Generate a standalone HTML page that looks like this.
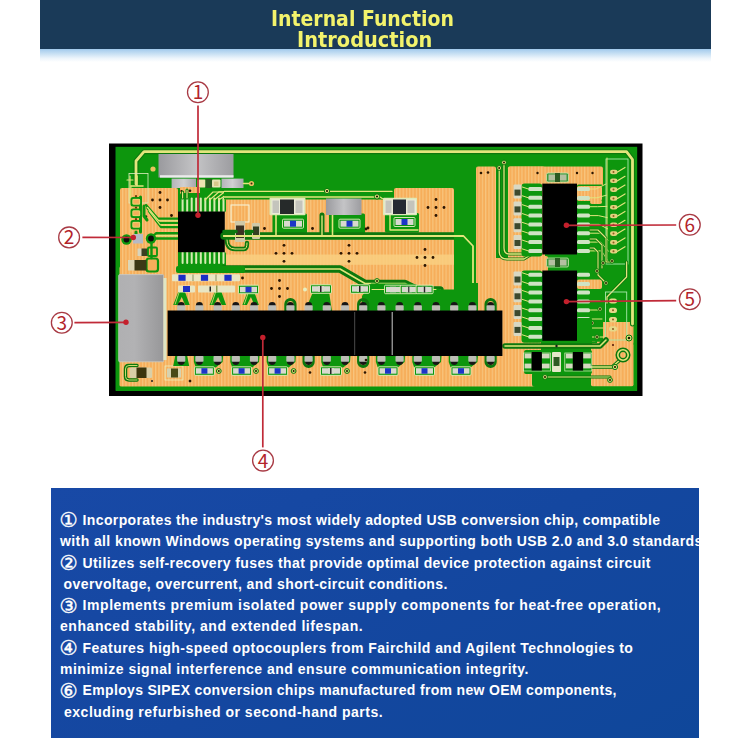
<!DOCTYPE html>
<html lang="en"><head><meta charset="utf-8"><title>Internal Function Introduction</title>
<style>
html,body{margin:0;padding:0;background:#fff}
body{width:750px;height:750px;position:relative;overflow:hidden;font-family:"Liberation Sans",sans-serif}
#hdr{position:absolute;left:40px;top:0;width:670.5px;height:48.5px;background:#1a3a58}
#hdr .h{position:absolute;white-space:pre;color:#f3f36c;transform-origin:0 0;font-family:"DejaVu Sans","Liberation Sans",sans-serif;font-weight:bold;font-size:20.4px;line-height:24px;height:24px}
#glow{position:absolute;left:40px;top:48.5px;width:670.5px;height:13px;background:linear-gradient(#a2caec,#c6dff3 35%,#ebf4fb 70%,#ffffff)}
#pcb{position:absolute;left:0;top:0}
#box{position:absolute;left:51px;top:487.5px;width:648px;height:250px;background:linear-gradient(150deg,#1849a6 0%,#1447a0 50%,#0f479a 100%);overflow:visible;color:#fff;font-weight:bold;font-size:14.0px}
#box .l{position:absolute;left:0;height:20px;line-height:20px;width:660px;white-space:pre}
#box .t{position:absolute;top:0}
#box .c{position:absolute;left:8.6px;top:0.6px;font-family:"DejaVu Sans",sans-serif;font-weight:normal;font-size:20.5px;line-height:20px;-webkit-text-stroke:0.35px #fff}
</style></head><body>
<div id="hdr">
<div class="h" style="left:230.8px;top:6.7px;transform:scaleX(0.9270)">Internal Function</div>
<div class="h" style="left:256.5px;top:27.5px;transform:scaleX(0.9502)">Introduction</div>
</div>
<div id="glow"></div>
<svg id="pcb" width="750" height="750" viewBox="0 0 750 750">
<defs>
<pattern id="cu" width="3.3" height="3.3" patternUnits="userSpaceOnUse"><rect width="3.3" height="3.3" fill="#f6ae5a"/><rect width="1.2" height="3.3" fill="#f8c47c"/></pattern>
<linearGradient id="gr1" x1="0" x2="1" y1="0" y2="0"><stop offset="0" stop-color="#9a9a9e"/><stop offset="0.5" stop-color="#c4c4c6"/><stop offset="1" stop-color="#9c9ca0"/></linearGradient>
<linearGradient id="gr2" x1="0" x2="1" y1="0" y2="0"><stop offset="0" stop-color="#b4b4b8"/><stop offset="0.5" stop-color="#d0d0d2"/><stop offset="1" stop-color="#a8a8ac"/></linearGradient>
<linearGradient id="gr3" x1="0" x2="1" y1="0" y2="0"><stop offset="0" stop-color="#b0b0b2"/><stop offset="0.35" stop-color="#b2b2b4"/><stop offset="1" stop-color="#979799"/></linearGradient>
<filter id="soft" x="-2%" y="-2%" width="104%" height="104%"><feGaussianBlur stdDeviation="0.6"/></filter>
</defs>
<g filter="url(#soft)">
<rect x="109.0" y="143.5" width="533.5" height="252.5" fill="#000" />
<rect x="115.5" y="146.8" width="521.7" height="244.0" fill="#0c960f" />
<rect x="120.0" y="188.0" width="58.0" height="87.0" fill="url(#cu)" rx="2"/>
<rect x="119.5" y="266.0" width="392.5" height="121.0" fill="url(#cu)" rx="2"/>
<rect x="224.0" y="197.0" width="230.0" height="88.0" fill="url(#cu)" rx="2"/>
<rect x="394.0" y="188.0" width="60.0" height="45.0" fill="url(#cu)" rx="2"/>
<rect x="476.0" y="166.5" width="20.0" height="145.5" fill="url(#cu)" rx="2"/>
<rect x="476.0" y="258.0" width="65.0" height="129.0" fill="url(#cu)" rx="2"/>
<rect x="508.0" y="166.5" width="95.0" height="35.5" fill="url(#cu)" rx="2"/>
<rect x="508.0" y="166.5" width="37.0" height="92.5" fill="url(#cu)" rx="2"/>
<rect x="597.0" y="322.0" width="36.5" height="24.0" fill="url(#cu)" rx="4"/>
<rect x="591.0" y="343.0" width="42.5" height="43.5" fill="url(#cu)" rx="2"/>
<rect x="577.0" y="283.0" width="25.0" height="14.0" fill="url(#cu)" rx="2"/>
<rect x="512.0" y="256.0" width="36.0" height="16.0" fill="url(#cu)" rx="2"/>
<rect x="577.0" y="330.0" width="19.0" height="12.0" fill="url(#cu)" rx="2"/>
<rect x="226.0" y="254.5" width="228.0" height="10.3" fill="#f9cf80" opacity="0.85"/>
<path d="M136,184 V161 L144,151.7 H626.5 L632.5,159.5 V324" stroke="#08780e" stroke-width="5" fill="none" stroke-linejoin="round" stroke-linecap="round" />
<path d="M136,184 V161 L144,151.7 H626.5 L632.5,159.5 V324" stroke="#e3e57c" stroke-width="2.8" fill="none" stroke-linejoin="round" stroke-linecap="round" />
<path d="M224,191.5 H392" stroke="#08780e" stroke-width="3" fill="none" stroke-linejoin="round" stroke-linecap="round" />
<path d="M224,191.5 H392" stroke="#e3e57c" stroke-width="1.2" fill="none" stroke-linejoin="round" stroke-linecap="round" />
<path d="M224,196.5 H380 L386,200" stroke="#08780e" stroke-width="3" fill="none" stroke-linejoin="round" stroke-linecap="round" />
<path d="M224,196.5 H380 L386,200" stroke="#e3e57c" stroke-width="1.2" fill="none" stroke-linejoin="round" stroke-linecap="round" />
<rect x="158.5" y="154.0" width="75.0" height="23.5" fill="url(#gr1)" />
<rect x="160.0" y="175.2" width="73.5" height="2.4" fill="#ececec" />
<rect x="171.6" y="178.6" width="24.4" height="9.4" fill="url(#gr2)" />
<rect x="221.5" y="178.6" width="22.0" height="9.4" fill="url(#gr2)" />
<rect x="197.0" y="179.5" width="8.5" height="8.0" fill="#ece4b0" rx="1"/>
<rect x="205.5" y="179.0" width="6.5" height="9.0" fill="#2c5a22" />
<rect x="212.0" y="179.5" width="8.5" height="8.0" fill="#e9e2b4" rx="1"/>
<rect x="214.0" y="181.5" width="4.5" height="4.5" fill="#d8c88a" />
<path d="M243.5,183.5 H249" stroke="#e3e57c" stroke-width="1.6" fill="none" stroke-linejoin="round" stroke-linecap="round" />
<circle cx="153.0" cy="169.0" r="2.6" fill="#e9c35f" />
<circle cx="251.5" cy="183.5" r="2.6" fill="#e8c060" />
<circle cx="251.5" cy="183.5" r="1" fill="#3a2a10" />
<rect x="180.0" y="187.0" width="20.0" height="9.0" fill="url(#cu)" rx="1"/>
<circle cx="190.0" cy="190.8" r="1.3" fill="#2a1200" />
<circle cx="181.5" cy="191.0" r="1.1" fill="#2a1200" />
<rect x="129.0" y="173.5" width="19.0" height="29.5" fill="none" stroke="#dfeec0" stroke-width="0.8"/>
<path d="M127,180 H133 M130,176 V200" stroke="#e3e57c" stroke-width="1.2" fill="none" stroke-linejoin="round" stroke-linecap="round" />
<path d="M131,186 V232" stroke="#e3e57c" stroke-width="0.9" fill="none" stroke-linejoin="round" stroke-linecap="round" />
<path d="M140.5,197 V232" stroke="#0c960f" stroke-width="3" fill="none" stroke-linejoin="round" stroke-linecap="round" />
<rect x="131.5" y="198.0" width="9.5" height="7.5" fill="#f6ae5a" stroke="#0c960f" stroke-width="2" rx="1.5"/>
<rect x="132.8" y="199.3" width="6.9" height="4.9" fill="none" stroke="#e3e57c" stroke-width="0.7" rx="1"/>
<circle cx="136.0" cy="196.2" r="1.1" fill="#6a3a08" />
<rect x="131.5" y="209.5" width="9.5" height="7.5" fill="#f6ae5a" stroke="#0c960f" stroke-width="2" rx="1.5"/>
<rect x="132.8" y="210.8" width="6.9" height="4.9" fill="none" stroke="#e3e57c" stroke-width="0.7" rx="1"/>
<circle cx="136.0" cy="207.7" r="1.1" fill="#6a3a08" />
<rect x="131.5" y="221.0" width="9.5" height="7.5" fill="#f6ae5a" stroke="#0c960f" stroke-width="2" rx="1.5"/>
<rect x="132.8" y="222.3" width="6.9" height="4.9" fill="none" stroke="#e3e57c" stroke-width="0.7" rx="1"/>
<circle cx="136.0" cy="219.2" r="1.1" fill="#6a3a08" />
<path d="M137,186 V176 M131,186 H143" stroke="#e3e57c" stroke-width="1.6" fill="none" stroke-linejoin="round" stroke-linecap="round" />
<path d="M136,232 V236" stroke="#0c960f" stroke-width="3" fill="none" stroke-linejoin="round" stroke-linecap="round" />
<circle cx="160.0" cy="200.0" r="1.4" fill="#2a1200" />
<circle cx="167.5" cy="200.0" r="1.4" fill="#2a1200" />
<circle cx="152.5" cy="200.0" r="1.4" fill="#2a1200" />
<circle cx="160.0" cy="207.5" r="1.4" fill="#2a1200" />
<circle cx="160.0" cy="192.5" r="1.4" fill="#2a1200" />
<circle cx="171.5" cy="215.5" r="1.4" fill="#2a1200" />
<circle cx="146.0" cy="216.5" r="1.2" fill="#10300c" />
<path d="M146.0,205.0 L158.0,218.7 H178" stroke="#0c960f" stroke-width="2.3" fill="none" stroke-linejoin="round" stroke-linecap="round" />
<path d="M147.5,208.2 L159.5,222.9 H178" stroke="#0c960f" stroke-width="2.3" fill="none" stroke-linejoin="round" stroke-linecap="round" />
<path d="M149.0,211.4 L161.0,227.1 H178" stroke="#0c960f" stroke-width="2.3" fill="none" stroke-linejoin="round" stroke-linecap="round" />
<path d="M147.5,207.5 L158.8,220.8 H178" stroke="#e3e57c" stroke-width="1.2" fill="none" stroke-linejoin="round" stroke-linecap="round" />
<path d="M149.0,210.7 L160.3,225.0 H178" stroke="#e3e57c" stroke-width="1.2" fill="none" stroke-linejoin="round" stroke-linecap="round" />
<path d="M144,206 V216 L147,220" stroke="#0c960f" stroke-width="3" fill="none" stroke-linejoin="round" stroke-linecap="round" />
<path d="M151,238.5 L156,233.3 H178" stroke="#0c960f" stroke-width="2.4" fill="none" stroke-linejoin="round" stroke-linecap="round" />
<path d="M151,238.5 H178" stroke="#0c960f" stroke-width="2.6" fill="none" stroke-linejoin="round" stroke-linecap="round" />
<path d="M156,235.6 H178" stroke="#e3e57c" stroke-width="1.3" fill="none" stroke-linejoin="round" stroke-linecap="round" />
<circle cx="126.5" cy="239.5" r="5.2" fill="#0c960f" />
<circle cx="126.5" cy="239.5" r="2.9" fill="#0a0a0a" />
<circle cx="151.0" cy="238.5" r="5.2" fill="#0c960f" />
<circle cx="151.0" cy="238.5" r="2.9" fill="#0a0a0a" />
<rect x="133.0" y="234.0" width="10.0" height="9.5" fill="#b6bac4" />
<rect x="137.5" y="248.5" width="4.5" height="7.5" fill="#d8d4bc" />
<rect x="141.5" y="248.5" width="6.5" height="7.5" fill="#3a3f22" />
<rect x="148.0" y="247.5" width="9.0" height="8.5" fill="#f6ae5a" stroke="#0c960f" stroke-width="1.8" rx="1"/>
<rect x="146.5" y="258.5" width="11.5" height="13.0" fill="#f6ae5a" stroke="#0c960f" stroke-width="2.2" rx="2.5"/>
<path d="M151.5,243 V258" stroke="#0c960f" stroke-width="2.4" fill="none" stroke-linejoin="round" stroke-linecap="round" />
<rect x="128.0" y="260.0" width="7.0" height="10.5" fill="#ddd6b6" />
<rect x="134.5" y="260.0" width="12.0" height="10.5" fill="#3a3712" />
<rect x="180.0" y="193.0" width="46.0" height="19.0" fill="#0c960f" rx="1.5"/>
<rect x="180.0" y="252.0" width="46.0" height="16.0" fill="#0c960f" rx="1.5"/>
<path d="M182.6,198.5 V212" stroke="#d6ebb0" stroke-width="2" fill="none" stroke-linejoin="round" stroke-linecap="round" />
<path d="M182.6,252 V263" stroke="#d6ebb0" stroke-width="2" fill="none" stroke-linejoin="round" stroke-linecap="round" />
<path d="M187.2,198.5 V212" stroke="#d6ebb0" stroke-width="2" fill="none" stroke-linejoin="round" stroke-linecap="round" />
<path d="M187.2,252 V263" stroke="#d6ebb0" stroke-width="2" fill="none" stroke-linejoin="round" stroke-linecap="round" />
<path d="M191.7,198.5 V212" stroke="#d6ebb0" stroke-width="2" fill="none" stroke-linejoin="round" stroke-linecap="round" />
<path d="M191.7,252 V263" stroke="#d6ebb0" stroke-width="2" fill="none" stroke-linejoin="round" stroke-linecap="round" />
<path d="M196.2,198.5 V212" stroke="#d6ebb0" stroke-width="2" fill="none" stroke-linejoin="round" stroke-linecap="round" />
<path d="M196.2,252 V263" stroke="#d6ebb0" stroke-width="2" fill="none" stroke-linejoin="round" stroke-linecap="round" />
<path d="M200.8,198.5 V212" stroke="#d6ebb0" stroke-width="2" fill="none" stroke-linejoin="round" stroke-linecap="round" />
<path d="M200.8,252 V263" stroke="#d6ebb0" stroke-width="2" fill="none" stroke-linejoin="round" stroke-linecap="round" />
<path d="M205.3,198.5 V212" stroke="#d6ebb0" stroke-width="2" fill="none" stroke-linejoin="round" stroke-linecap="round" />
<path d="M205.3,252 V263" stroke="#d6ebb0" stroke-width="2" fill="none" stroke-linejoin="round" stroke-linecap="round" />
<path d="M209.9,198.5 V212" stroke="#d6ebb0" stroke-width="2" fill="none" stroke-linejoin="round" stroke-linecap="round" />
<path d="M209.9,252 V263" stroke="#d6ebb0" stroke-width="2" fill="none" stroke-linejoin="round" stroke-linecap="round" />
<path d="M214.4,198.5 V212" stroke="#d6ebb0" stroke-width="2" fill="none" stroke-linejoin="round" stroke-linecap="round" />
<path d="M214.4,252 V263" stroke="#d6ebb0" stroke-width="2" fill="none" stroke-linejoin="round" stroke-linecap="round" />
<path d="M219.0,198.5 V212" stroke="#d6ebb0" stroke-width="2" fill="none" stroke-linejoin="round" stroke-linecap="round" />
<path d="M219.0,252 V263" stroke="#d6ebb0" stroke-width="2" fill="none" stroke-linejoin="round" stroke-linecap="round" />
<path d="M223.5,198.5 V212" stroke="#d6ebb0" stroke-width="2" fill="none" stroke-linejoin="round" stroke-linecap="round" />
<path d="M223.5,252 V263" stroke="#d6ebb0" stroke-width="2" fill="none" stroke-linejoin="round" stroke-linecap="round" />
<path d="M182.6,198 V192 M187,198 V190" stroke="#08780e" stroke-width="3" fill="none" stroke-linejoin="round" stroke-linecap="round" />
<path d="M182.6,198 V192 M187,198 V190" stroke="#e3e57c" stroke-width="1.2" fill="none" stroke-linejoin="round" stroke-linecap="round" />
<path d="M205.0,200 L213.0,192.0 H250" stroke="#e3e57c" stroke-width="1.2" fill="none" stroke-linejoin="round" stroke-linecap="round" />
<path d="M209.6,200 L219.1,191.8 H252" stroke="#e3e57c" stroke-width="1.2" fill="none" stroke-linejoin="round" stroke-linecap="round" />
<path d="M214.1,200 L225.1,191.6 H254" stroke="#e3e57c" stroke-width="1.2" fill="none" stroke-linejoin="round" stroke-linecap="round" />
<path d="M218.7,200 L231.2,191.4 H256" stroke="#e3e57c" stroke-width="1.2" fill="none" stroke-linejoin="round" stroke-linecap="round" />
<path d="M223.2,200 L237.2,191.2 H258" stroke="#e3e57c" stroke-width="1.2" fill="none" stroke-linejoin="round" stroke-linecap="round" />
<rect x="178.0" y="211.5" width="46.8" height="40.7" fill="#050505" />
<rect x="224.0" y="189.0" width="170.0" height="10.5" fill="#0c960f" rx="0"/>
<path d="M224,191.4 H392" stroke="#e3e57c" stroke-width="1.3" fill="none" stroke-linejoin="round" stroke-linecap="round" />
<path d="M224,197 H380 L386,201" stroke="#e3e57c" stroke-width="1.3" fill="none" stroke-linejoin="round" stroke-linecap="round" />
<rect x="272.5" y="213.5" width="34.5" height="20.5" fill="#0c960f" rx="1.5"/>
<rect x="329.0" y="213.5" width="36.0" height="20.5" fill="#0c960f" rx="1.5"/>
<rect x="385.0" y="213.0" width="34.0" height="19.5" fill="#0c960f" rx="1.5"/>
<path d="M224,236 H454" stroke="#08780e" stroke-width="7.4" fill="none" stroke-linejoin="round" stroke-linecap="round" />
<path d="M224,236 H454" stroke="#e3e57c" stroke-width="2" fill="none" stroke-linejoin="round" stroke-linecap="round" />
<path d="M276,215 V236" stroke="#e3e57c" stroke-width="1.6" fill="none" stroke-linejoin="round" stroke-linecap="round" />
<path d="M332.5,215 V236" stroke="#e3e57c" stroke-width="1.6" fill="none" stroke-linejoin="round" stroke-linecap="round" />
<path d="M390,214 V230 H418" stroke="#e3e57c" stroke-width="1.4" fill="none" stroke-linejoin="round" stroke-linecap="round" />
<path d="M322,236 V215" stroke="#08780e" stroke-width="5" fill="none" stroke-linejoin="round" stroke-linecap="round" />
<path d="M322,236 V216" stroke="#e3e57c" stroke-width="1.4" fill="none" stroke-linejoin="round" stroke-linecap="round" />
<rect x="231.0" y="205.0" width="18.0" height="17.0" fill="none" stroke="#f6f2d6" stroke-width="1.1"/>
<rect x="235.0" y="221.0" width="10.0" height="21.0" fill="#cfc9a8" rx="1"/>
<rect x="236.0" y="225.5" width="8.0" height="12.5" fill="#3a3322" />
<rect x="252.0" y="223.0" width="8.0" height="16.0" fill="#cfc9a8" rx="1"/>
<rect x="253.0" y="226.5" width="6.0" height="9.5" fill="#344020" />
<path d="M227,240 Q227,249 235,249 H244 Q247,249 247,243" stroke="#08780e" stroke-width="4.4" fill="none" stroke-linejoin="round" stroke-linecap="round" />
<path d="M227,240 Q227,249 235,249 H244 Q247,249 247,243" stroke="#e3e57c" stroke-width="1" fill="none" stroke-linejoin="round" stroke-linecap="round" />
<path d="M224,231.5 H236 M246,231.5 H252" stroke="#08780e" stroke-width="3.6" fill="none" stroke-linejoin="round" stroke-linecap="round" />
<rect x="269.5" y="197.8" width="36.0" height="17.5" fill="#dfe9b8" rx="1"/>
<rect x="271.5" y="199.5" width="32.5" height="14.5" fill="#ecebd8" />
<rect x="280.0" y="199.5" width="14.0" height="14.5" fill="#262a2c" />
<rect x="272.5" y="200.5" width="6.5" height="12.5" fill="#c4c4bc" />
<rect x="295.5" y="200.5" width="7.0" height="12.5" fill="#c4c4bc" />
<rect x="282.5" y="219.2" width="21.0" height="9.0" fill="#0c960f" stroke="#e9efc0" stroke-width="0.9" rx="1"/>
<rect x="284.0" y="220.7" width="18.0" height="6.0" fill="#d9d9cf" />
<rect x="290.0" y="220.7" width="6.0" height="6.0" fill="#1c36c8" />
<rect x="326.0" y="198.5" width="35.5" height="16.5" fill="url(#gr1)" />
<rect x="339.0" y="219.2" width="21.0" height="9.0" fill="#0c960f" stroke="#e9efc0" stroke-width="0.9" rx="1"/>
<rect x="340.5" y="220.7" width="18.0" height="6.0" fill="#d9d9cf" />
<rect x="346.5" y="220.7" width="6.0" height="6.0" fill="#1c36c8" />
<rect x="383.0" y="197.8" width="34.0" height="17.5" fill="#dfe9b8" rx="1"/>
<rect x="384.5" y="199.5" width="31.5" height="14.5" fill="#ecebd8" />
<rect x="393.0" y="199.5" width="13.0" height="14.5" fill="#262b30" />
<rect x="385.5" y="200.5" width="6.0" height="12.5" fill="#c4c4bc" />
<rect x="407.5" y="200.5" width="7.0" height="12.5" fill="#c4c4bc" />
<rect x="394.0" y="217.5" width="21.0" height="9.0" fill="#0c960f" stroke="#e9efc0" stroke-width="0.9" rx="1"/>
<rect x="395.5" y="219.0" width="18.0" height="6.0" fill="#d9d9cf" />
<rect x="401.5" y="219.0" width="6.0" height="6.0" fill="#1c36c8" />
<circle cx="377.0" cy="196.5" r="2.6" fill="#e3e57c" stroke="#08780e" stroke-width="1"/>
<circle cx="377.0" cy="196.5" r="1.1" fill="#1a1a00" />
<circle cx="327.0" cy="191.0" r="2.6" fill="#e3e57c" stroke="#08780e" stroke-width="1"/>
<circle cx="327.0" cy="191.0" r="1.1" fill="#1a1a00" />
<circle cx="284.0" cy="253.3" r="1.4" fill="#2a1200" />
<circle cx="292.0" cy="253.3" r="1.4" fill="#2a1200" />
<circle cx="276.0" cy="253.3" r="1.4" fill="#2a1200" />
<circle cx="284.0" cy="261.3" r="1.4" fill="#2a1200" />
<circle cx="284.0" cy="245.3" r="1.4" fill="#2a1200" />
<circle cx="349.0" cy="253.3" r="1.4" fill="#2a1200" />
<circle cx="357.0" cy="253.3" r="1.4" fill="#2a1200" />
<circle cx="341.0" cy="253.3" r="1.4" fill="#2a1200" />
<circle cx="349.0" cy="261.3" r="1.4" fill="#2a1200" />
<circle cx="349.0" cy="245.3" r="1.4" fill="#2a1200" />
<circle cx="436.0" cy="207.5" r="1.4" fill="#2a1200" />
<circle cx="444.0" cy="207.5" r="1.4" fill="#2a1200" />
<circle cx="428.0" cy="207.5" r="1.4" fill="#2a1200" />
<circle cx="436.0" cy="215.5" r="1.4" fill="#2a1200" />
<circle cx="436.0" cy="199.5" r="1.4" fill="#2a1200" />
<circle cx="425.0" cy="257.5" r="1.4" fill="#2a1200" />
<circle cx="433.0" cy="257.5" r="1.4" fill="#2a1200" />
<circle cx="417.0" cy="257.5" r="1.4" fill="#2a1200" />
<circle cx="425.0" cy="265.5" r="1.4" fill="#2a1200" />
<circle cx="425.0" cy="249.5" r="1.4" fill="#2a1200" />
<circle cx="264.5" cy="228.5" r="1.4" fill="#2a1200" />
<circle cx="312.5" cy="228.5" r="1.4" fill="#2a1200" />
<circle cx="368.0" cy="228.0" r="1.4" fill="#2a1200" />
<circle cx="366.0" cy="229.0" r="1.4" fill="#2a1200" />
<path d="M224,269 H340 L365,283.5 H405 L418,290 H440" stroke="#08780e" stroke-width="7.5" fill="none" stroke-linejoin="round" stroke-linecap="round" />
<path d="M224,269 H340 L365,283.5 H405 L418,290 H440" stroke="#e3e57c" stroke-width="1.6" fill="none" stroke-linejoin="round" stroke-linecap="round" />
<rect x="455.0" y="240.0" width="20.0" height="72.0" fill="#0c960f" rx="0"/>
<rect x="454.0" y="166.0" width="22.0" height="134.0" fill="#0c960f" />
<circle cx="481.0" cy="173.0" r="1.3" fill="#2a1200" />
<circle cx="488.0" cy="172.5" r="1.3" fill="#2a1200" />
<path d="M224,236 H463.5 L473,246 V300" stroke="#e3e57c" stroke-width="1.8" fill="none" stroke-linejoin="round" stroke-linecap="round" />
<path d="M499.2,168 V251 Q499.2,259 507,259 H524 L532,254" stroke="#08780e" stroke-width="3.2" fill="none" stroke-linejoin="round" stroke-linecap="round" />
<path d="M499.2,168 V251 Q499.2,259 507,259 H524 L532,254" stroke="#e3e57c" stroke-width="1.3" fill="none" stroke-linejoin="round" stroke-linecap="round" />
<path d="M504,163 V248 Q504,254 509,254 H522" stroke="#08780e" stroke-width="3.2" fill="none" stroke-linejoin="round" stroke-linecap="round" />
<path d="M504,163 V248 Q504,254 509,254 H522" stroke="#e3e57c" stroke-width="1.3" fill="none" stroke-linejoin="round" stroke-linecap="round" />
<circle cx="499.2" cy="168.0" r="2.4" fill="#e3e57c" stroke="#08780e" stroke-width="1"/>
<circle cx="499.2" cy="168.0" r="1" fill="#1a1a00" />
<circle cx="504.0" cy="162.5" r="2.4" fill="#e3e57c" stroke="#08780e" stroke-width="1"/>
<circle cx="504.0" cy="162.5" r="1" fill="#1a1a00" />
<rect x="521.5" y="183.6" width="20.8" height="72.9" fill="#0c960f" rx="3"/>
<rect x="577.0" y="184.6" width="26.0" height="70.9" fill="#0c960f" rx="1.5"/>
<rect x="528.3" y="187.0" width="14.0" height="4.0" fill="#cfe3c4" rx="1.5"/>
<rect x="577.0" y="187.0" width="13.0" height="4.0" fill="#cfe3c4" rx="1.5"/>
<path d="M528.3,189.0 L522.3,187.0" stroke="#e3e57c" stroke-width="1" fill="none" stroke-linejoin="round" stroke-linecap="round" />
<rect x="528.3" y="195.8" width="14.0" height="4.0" fill="#cfe3c4" rx="1.5"/>
<rect x="577.0" y="195.8" width="13.0" height="4.0" fill="#cfe3c4" rx="1.5"/>
<path d="M528.3,197.8 L522.3,195.8" stroke="#e3e57c" stroke-width="1" fill="none" stroke-linejoin="round" stroke-linecap="round" />
<rect x="528.3" y="204.7" width="14.0" height="4.0" fill="#cfe3c4" rx="1.5"/>
<rect x="577.0" y="204.7" width="13.0" height="4.0" fill="#cfe3c4" rx="1.5"/>
<path d="M528.3,206.7 L522.3,204.7" stroke="#e3e57c" stroke-width="1" fill="none" stroke-linejoin="round" stroke-linecap="round" />
<rect x="528.3" y="213.6" width="14.0" height="4.0" fill="#cfe3c4" rx="1.5"/>
<rect x="577.0" y="213.6" width="13.0" height="4.0" fill="#cfe3c4" rx="1.5"/>
<path d="M528.3,215.6 L522.3,213.6" stroke="#e3e57c" stroke-width="1" fill="none" stroke-linejoin="round" stroke-linecap="round" />
<rect x="528.3" y="222.4" width="14.0" height="4.0" fill="#cfe3c4" rx="1.5"/>
<rect x="577.0" y="222.4" width="13.0" height="4.0" fill="#cfe3c4" rx="1.5"/>
<path d="M528.3,224.4 L522.3,222.4" stroke="#e3e57c" stroke-width="1" fill="none" stroke-linejoin="round" stroke-linecap="round" />
<rect x="528.3" y="231.2" width="14.0" height="4.0" fill="#cfe3c4" rx="1.5"/>
<rect x="577.0" y="231.2" width="13.0" height="4.0" fill="#cfe3c4" rx="1.5"/>
<path d="M528.3,233.2 L522.3,231.2" stroke="#e3e57c" stroke-width="1" fill="none" stroke-linejoin="round" stroke-linecap="round" />
<rect x="528.3" y="240.1" width="14.0" height="4.0" fill="#cfe3c4" rx="1.5"/>
<rect x="577.0" y="240.1" width="13.0" height="4.0" fill="#cfe3c4" rx="1.5"/>
<path d="M528.3,242.1 L522.3,240.1" stroke="#e3e57c" stroke-width="1" fill="none" stroke-linejoin="round" stroke-linecap="round" />
<rect x="528.3" y="248.9" width="14.0" height="4.0" fill="#cfe3c4" rx="1.5"/>
<rect x="577.0" y="248.9" width="13.0" height="4.0" fill="#cfe3c4" rx="1.5"/>
<path d="M528.3,250.9 L522.3,248.9" stroke="#e3e57c" stroke-width="1" fill="none" stroke-linejoin="round" stroke-linecap="round" />
<rect x="513.5" y="184.6" width="8.0" height="14.0" fill="#d9d8c4" rx="1"/>
<rect x="514.5" y="189.6" width="6.0" height="6.0" fill="#3d4a2e" />
<rect x="513.5" y="201.4" width="8.0" height="14.0" fill="#d9d8c4" rx="1"/>
<rect x="514.5" y="206.4" width="6.0" height="6.0" fill="#3d4a2e" />
<rect x="513.5" y="218.2" width="8.0" height="14.0" fill="#d9d8c4" rx="1"/>
<rect x="514.5" y="223.2" width="6.0" height="6.0" fill="#3d4a2e" />
<rect x="513.5" y="235.0" width="8.0" height="14.0" fill="#d9d8c4" rx="1"/>
<rect x="514.5" y="240.0" width="6.0" height="6.0" fill="#3d4a2e" />
<rect x="542.3" y="183.6" width="34.7" height="70.9" fill="#050505" />
<rect x="521.5" y="270.5" width="20.8" height="72.3" fill="#0c960f" rx="3"/>
<rect x="577.0" y="271.5" width="26.0" height="70.3" fill="#0c960f" rx="1.5"/>
<rect x="528.3" y="272.8" width="14.0" height="4.0" fill="#cfe3c4" rx="1.5"/>
<rect x="577.0" y="272.8" width="13.0" height="4.0" fill="#cfe3c4" rx="1.5"/>
<path d="M528.3,274.8 L522.3,272.8" stroke="#e3e57c" stroke-width="1" fill="none" stroke-linejoin="round" stroke-linecap="round" />
<rect x="528.3" y="281.7" width="14.0" height="4.0" fill="#cfe3c4" rx="1.5"/>
<rect x="577.0" y="281.7" width="13.0" height="4.0" fill="#cfe3c4" rx="1.5"/>
<path d="M528.3,283.7 L522.3,281.7" stroke="#e3e57c" stroke-width="1" fill="none" stroke-linejoin="round" stroke-linecap="round" />
<rect x="528.3" y="290.5" width="14.0" height="4.0" fill="#cfe3c4" rx="1.5"/>
<rect x="577.0" y="290.5" width="13.0" height="4.0" fill="#cfe3c4" rx="1.5"/>
<path d="M528.3,292.5 L522.3,290.5" stroke="#e3e57c" stroke-width="1" fill="none" stroke-linejoin="round" stroke-linecap="round" />
<rect x="528.3" y="299.4" width="14.0" height="4.0" fill="#cfe3c4" rx="1.5"/>
<rect x="577.0" y="299.4" width="13.0" height="4.0" fill="#cfe3c4" rx="1.5"/>
<path d="M528.3,301.4 L522.3,299.4" stroke="#e3e57c" stroke-width="1" fill="none" stroke-linejoin="round" stroke-linecap="round" />
<rect x="528.3" y="308.2" width="14.0" height="4.0" fill="#cfe3c4" rx="1.5"/>
<rect x="577.0" y="308.2" width="13.0" height="4.0" fill="#cfe3c4" rx="1.5"/>
<path d="M528.3,310.2 L522.3,308.2" stroke="#e3e57c" stroke-width="1" fill="none" stroke-linejoin="round" stroke-linecap="round" />
<rect x="528.3" y="317.1" width="14.0" height="4.0" fill="#cfe3c4" rx="1.5"/>
<rect x="577.0" y="317.1" width="13.0" height="4.0" fill="#cfe3c4" rx="1.5"/>
<path d="M528.3,319.1 L522.3,317.1" stroke="#e3e57c" stroke-width="1" fill="none" stroke-linejoin="round" stroke-linecap="round" />
<rect x="528.3" y="325.9" width="14.0" height="4.0" fill="#cfe3c4" rx="1.5"/>
<rect x="577.0" y="325.9" width="13.0" height="4.0" fill="#cfe3c4" rx="1.5"/>
<path d="M528.3,327.9 L522.3,325.9" stroke="#e3e57c" stroke-width="1" fill="none" stroke-linejoin="round" stroke-linecap="round" />
<rect x="528.3" y="334.8" width="14.0" height="4.0" fill="#cfe3c4" rx="1.5"/>
<rect x="577.0" y="334.8" width="13.0" height="4.0" fill="#cfe3c4" rx="1.5"/>
<path d="M528.3,336.8 L522.3,334.8" stroke="#e3e57c" stroke-width="1" fill="none" stroke-linejoin="round" stroke-linecap="round" />
<rect x="513.5" y="271.5" width="8.0" height="14.0" fill="#d9d8c4" rx="1"/>
<rect x="514.5" y="276.5" width="6.0" height="6.0" fill="#3d4a2e" />
<rect x="513.5" y="288.3" width="8.0" height="14.0" fill="#d9d8c4" rx="1"/>
<rect x="514.5" y="293.3" width="6.0" height="6.0" fill="#3d4a2e" />
<rect x="513.5" y="305.1" width="8.0" height="14.0" fill="#d9d8c4" rx="1"/>
<rect x="514.5" y="310.1" width="6.0" height="6.0" fill="#3d4a2e" />
<rect x="513.5" y="321.9" width="8.0" height="14.0" fill="#d9d8c4" rx="1"/>
<rect x="514.5" y="326.9" width="6.0" height="6.0" fill="#3d4a2e" />
<rect x="542.3" y="270.5" width="34.7" height="70.3" fill="#050505" />
<rect x="577.0" y="186.0" width="25.0" height="15.0" fill="url(#cu)" rx="2"/>
<rect x="590.0" y="200.0" width="12.0" height="4.0" fill="url(#cu)" rx="2"/>
<rect x="577.0" y="279.5" width="25.0" height="9.5" fill="url(#cu)" rx="2"/>
<rect x="577.0" y="282.0" width="13.0" height="4.0" fill="#cfe3c4" rx="1.5"/>
<rect x="577.0" y="187.0" width="13.0" height="4.0" fill="#cfe3c4" rx="1.5"/>
<rect x="577.0" y="195.9" width="13.0" height="4.0" fill="#cfe3c4" rx="1.5"/>
<circle cx="537.5" cy="173.0" r="1.2" fill="#2a1200" />
<circle cx="577.0" cy="173.0" r="1.2" fill="#2a1200" />
<circle cx="592.5" cy="173.0" r="1.2" fill="#2a1200" />
<rect x="546.5" y="173.0" width="22.0" height="9.0" fill="#3d9a3a" rx="1.5" stroke="#cfe3b0" stroke-width="0.8"/>
<rect x="548.5" y="174.5" width="6.5" height="6.0" fill="#b4c0a0" />
<rect x="560.0" y="174.5" width="6.5" height="6.0" fill="#b4c0a0" />
<rect x="555.0" y="173.0" width="5.0" height="9.0" fill="#2a5a20" />
<rect x="546.5" y="258.0" width="22.0" height="9.0" fill="#3d9a3a" rx="1.5" stroke="#cfe3b0" stroke-width="0.8"/>
<rect x="548.5" y="259.5" width="6.5" height="6.0" fill="#b4c0a0" />
<rect x="560.0" y="259.5" width="6.5" height="6.0" fill="#b4c0a0" />
<rect x="555.0" y="258.0" width="5.0" height="9.0" fill="#2a5a20" />
<path d="M590,189.0 H596.0 L606.0,184.0" stroke="#e3e57c" stroke-width="1" fill="none" stroke-linejoin="round" stroke-linecap="round" />
<path d="M590,197.8 H596.8 L606.4,195.2" stroke="#e3e57c" stroke-width="1" fill="none" stroke-linejoin="round" stroke-linecap="round" />
<path d="M590,206.7 H597.6 L606.8,206.4" stroke="#e3e57c" stroke-width="1" fill="none" stroke-linejoin="round" stroke-linecap="round" />
<path d="M590,215.6 H598.4 L607.2,217.6" stroke="#e3e57c" stroke-width="1" fill="none" stroke-linejoin="round" stroke-linecap="round" />
<path d="M590,224.4 H599.2 L607.6,228.8" stroke="#e3e57c" stroke-width="1" fill="none" stroke-linejoin="round" stroke-linecap="round" />
<path d="M590,233.2 H600.0 L608.0,240.0" stroke="#e3e57c" stroke-width="1" fill="none" stroke-linejoin="round" stroke-linecap="round" />
<path d="M590,242.1 H600.8 L608.4,251.2" stroke="#e3e57c" stroke-width="1" fill="none" stroke-linejoin="round" stroke-linecap="round" />
<path d="M590,250.9 H601.6 L608.8,262.4" stroke="#e3e57c" stroke-width="1" fill="none" stroke-linejoin="round" stroke-linecap="round" />
<rect x="606.0" y="159.0" width="22.0" height="105.0" fill="none" stroke="#a8e8a8" stroke-width="0.9"/>
<rect x="610.0" y="169.7" width="7.5" height="4.6" fill="#e2d27e" rx="2.3"/>
<circle cx="613.5" cy="172.0" r="1" fill="#8a5a20" />
<path d="M617.5,172.0 L625,167.5" stroke="#e3e57c" stroke-width="1.2" fill="none" stroke-linejoin="round" stroke-linecap="round" />
<rect x="610.0" y="178.5" width="7.5" height="4.6" fill="#e2d27e" rx="2.3"/>
<circle cx="613.5" cy="180.8" r="1" fill="#8a5a20" />
<path d="M617.5,180.8 L625,176.3" stroke="#e3e57c" stroke-width="1.2" fill="none" stroke-linejoin="round" stroke-linecap="round" />
<rect x="610.0" y="187.3" width="7.5" height="4.6" fill="#e2d27e" rx="2.3"/>
<circle cx="613.5" cy="189.6" r="1" fill="#8a5a20" />
<path d="M617.5,189.6 L625,185.1" stroke="#e3e57c" stroke-width="1.2" fill="none" stroke-linejoin="round" stroke-linecap="round" />
<rect x="610.0" y="196.1" width="7.5" height="4.6" fill="#e2d27e" rx="2.3"/>
<circle cx="613.5" cy="198.4" r="1" fill="#8a5a20" />
<path d="M617.5,198.4 L625,193.9" stroke="#e3e57c" stroke-width="1.2" fill="none" stroke-linejoin="round" stroke-linecap="round" />
<rect x="610.0" y="204.9" width="7.5" height="4.6" fill="#e2d27e" rx="2.3"/>
<circle cx="613.5" cy="207.2" r="1" fill="#8a5a20" />
<path d="M617.5,207.2 L625,202.7" stroke="#e3e57c" stroke-width="1.2" fill="none" stroke-linejoin="round" stroke-linecap="round" />
<rect x="610.0" y="213.7" width="7.5" height="4.6" fill="#e2d27e" rx="2.3"/>
<circle cx="613.5" cy="216.0" r="1" fill="#8a5a20" />
<path d="M617.5,216.0 L625,211.5" stroke="#e3e57c" stroke-width="1.2" fill="none" stroke-linejoin="round" stroke-linecap="round" />
<rect x="610.0" y="222.5" width="7.5" height="4.6" fill="#e2d27e" rx="2.3"/>
<circle cx="613.5" cy="224.8" r="1" fill="#8a5a20" />
<path d="M617.5,224.8 L625,220.3" stroke="#e3e57c" stroke-width="1.2" fill="none" stroke-linejoin="round" stroke-linecap="round" />
<rect x="610.0" y="231.3" width="7.5" height="4.6" fill="#e2d27e" rx="2.3"/>
<circle cx="613.5" cy="233.6" r="1" fill="#8a5a20" />
<path d="M617.5,233.6 L625,229.1" stroke="#e3e57c" stroke-width="1.2" fill="none" stroke-linejoin="round" stroke-linecap="round" />
<rect x="610.0" y="240.1" width="7.5" height="4.6" fill="#e2d27e" rx="2.3"/>
<circle cx="613.5" cy="242.4" r="1" fill="#8a5a20" />
<path d="M617.5,242.4 L625,237.9" stroke="#e3e57c" stroke-width="1.2" fill="none" stroke-linejoin="round" stroke-linecap="round" />
<rect x="610.0" y="248.9" width="7.5" height="4.6" fill="#e2d27e" rx="2.3"/>
<circle cx="613.5" cy="251.2" r="1" fill="#8a5a20" />
<path d="M617.5,251.2 L625,246.7" stroke="#e3e57c" stroke-width="1.2" fill="none" stroke-linejoin="round" stroke-linecap="round" />
<path d="M607,158 V262" stroke="#e3e57c" stroke-width="1" fill="none" stroke-linejoin="round" stroke-linecap="round" />
<path d="M590,230 H598 L606,238 V262 L612,262" stroke="#08780e" stroke-width="2.6" fill="none" stroke-linejoin="round" stroke-linecap="round" />
<path d="M590,230 H598 L606,238 V262 L612,262" stroke="#e3e57c" stroke-width="1.1" fill="none" stroke-linejoin="round" stroke-linecap="round" />
<path d="M590,239 H596 L602,245 V268" stroke="#08780e" stroke-width="2.6" fill="none" stroke-linejoin="round" stroke-linecap="round" />
<path d="M590,239 H596 L602,245 V268" stroke="#e3e57c" stroke-width="1.1" fill="none" stroke-linejoin="round" stroke-linecap="round" />
<path d="M590,248 H594 L598,252 V275 L606,283" stroke="#08780e" stroke-width="2.6" fill="none" stroke-linejoin="round" stroke-linecap="round" />
<path d="M590,248 H594 L598,252 V275 L606,283" stroke="#e3e57c" stroke-width="1.1" fill="none" stroke-linejoin="round" stroke-linecap="round" />
<circle cx="603.0" cy="263.0" r="2.2" fill="#e3e57c" stroke="#08780e" stroke-width="1"/>
<circle cx="603.0" cy="263.0" r="1" fill="#1a1a00" />
<circle cx="612.0" cy="261.0" r="2.2" fill="#e3e57c" stroke="#08780e" stroke-width="1"/>
<circle cx="612.0" cy="261.0" r="1" fill="#1a1a00" />
<circle cx="597.0" cy="271.0" r="2.2" fill="#e3e57c" stroke="#08780e" stroke-width="1"/>
<circle cx="597.0" cy="271.0" r="1" fill="#1a1a00" />
<circle cx="606.0" cy="283.0" r="2.2" fill="#e3e57c" stroke="#08780e" stroke-width="1"/>
<circle cx="606.0" cy="283.0" r="1" fill="#1a1a00" />
<path d="M626.6,262 V277 L607,297 V303" stroke="#08780e" stroke-width="3.2" fill="none" stroke-linejoin="round" stroke-linecap="round" />
<path d="M626.6,262 V277 L607,297 V303" stroke="#e3e57c" stroke-width="1.3" fill="none" stroke-linejoin="round" stroke-linecap="round" />
<rect x="605.5" y="292.0" width="21.2" height="48.0" fill="none" stroke="#a8e8a8" stroke-width="0.9"/>
<rect x="609.0" y="298.4" width="8.0" height="5.2" fill="#e6d98a" rx="2.5"/>
<circle cx="613.0" cy="301.0" r="1" fill="#8a5a20" />
<rect x="609.0" y="307.7" width="8.0" height="5.2" fill="#e6d98a" rx="2.5"/>
<circle cx="613.0" cy="310.3" r="1" fill="#8a5a20" />
<rect x="609.0" y="317.0" width="8.0" height="5.2" fill="#e6d98a" rx="2.5"/>
<circle cx="613.0" cy="319.6" r="1" fill="#8a5a20" />
<rect x="609.0" y="326.3" width="8.0" height="5.2" fill="#e6d98a" rx="2.5"/>
<circle cx="613.0" cy="328.9" r="1" fill="#8a5a20" />
<path d="M590,301 H600" stroke="#e3e57c" stroke-width="1" fill="none" stroke-linejoin="round" stroke-linecap="round" />
<path d="M590,310 H601" stroke="#e3e57c" stroke-width="1" fill="none" stroke-linejoin="round" stroke-linecap="round" />
<path d="M590,319 H602" stroke="#e3e57c" stroke-width="1" fill="none" stroke-linejoin="round" stroke-linecap="round" />
<path d="M590,328 H603" stroke="#e3e57c" stroke-width="1" fill="none" stroke-linejoin="round" stroke-linecap="round" />
<path d="M590,337 H604" stroke="#e3e57c" stroke-width="1" fill="none" stroke-linejoin="round" stroke-linecap="round" />
<circle cx="600.0" cy="309.0" r="2.2" fill="#e3e57c" stroke="#08780e" stroke-width="1"/>
<circle cx="600.0" cy="309.0" r="1" fill="#1a1a00" />
<circle cx="592.0" cy="323.0" r="2.2" fill="#e3e57c" stroke="#08780e" stroke-width="1"/>
<circle cx="592.0" cy="323.0" r="1" fill="#1a1a00" />
<circle cx="597.0" cy="337.0" r="2.2" fill="#e3e57c" stroke="#08780e" stroke-width="1"/>
<circle cx="597.0" cy="337.0" r="1" fill="#1a1a00" />
<circle cx="629.0" cy="338.0" r="3" fill="#e3e57c" stroke="#08780e" stroke-width="1"/>
<circle cx="629.0" cy="338.0" r="1.3" fill="#1a1a00" />
<rect x="577.0" y="318.0" width="15.0" height="27.0" fill="#0c960f" rx="1"/>
<path d="M505,346 H600 L606,340" stroke="#08780e" stroke-width="5.5" fill="none" stroke-linejoin="round" stroke-linecap="round" />
<path d="M505,346 H600 L606,340" stroke="#e3e57c" stroke-width="1.6" fill="none" stroke-linejoin="round" stroke-linecap="round" />
<rect x="532.0" y="372.0" width="58.0" height="15.0" fill="#0c960f" rx="3"/>
<rect x="524.0" y="350.0" width="68.0" height="24.0" fill="#0c960f" rx="2"/>
<path d="M545,377 H610" stroke="#08780e" stroke-width="3" fill="none" stroke-linejoin="round" stroke-linecap="round" />
<path d="M545,377 H610" stroke="#e3e57c" stroke-width="1.2" fill="none" stroke-linejoin="round" stroke-linecap="round" />
<circle cx="545.0" cy="377.0" r="2.4" fill="#e3e57c" stroke="#08780e" stroke-width="1"/>
<circle cx="545.0" cy="377.0" r="1" fill="#1a1a00" />
<circle cx="610.0" cy="380.0" r="2.4" fill="#e3e57c" stroke="#08780e" stroke-width="1"/>
<circle cx="610.0" cy="380.0" r="1" fill="#1a1a00" />
<path d="M590,367 H612 L620,360" stroke="#08780e" stroke-width="3.4" fill="none" stroke-linejoin="round" stroke-linecap="round" />
<path d="M590,367 H612 L620,360" stroke="#e3e57c" stroke-width="1.4" fill="none" stroke-linejoin="round" stroke-linecap="round" />
<circle cx="615.0" cy="367.0" r="2.6" fill="#e3e57c" stroke="#08780e" stroke-width="1"/>
<circle cx="615.0" cy="367.0" r="1.1" fill="#1a1a00" />
<circle cx="623.0" cy="355.0" r="5.2" fill="none" stroke="#08780e" stroke-width="4.6"/>
<circle cx="623.0" cy="355.0" r="5.2" fill="none" stroke="#e3e57c" stroke-width="1.6"/>
<rect x="523.6" y="353.0" width="27.0" height="18.0" fill="none" stroke="#dfeec0" stroke-width="0.7"/>
<rect x="524.6" y="353.6" width="7.0" height="4.8" fill="#d5d8c0" />
<rect x="541.9" y="353.6" width="7.7" height="4.8" fill="#d5d8c0" />
<rect x="524.6" y="363.6" width="7.0" height="4.8" fill="#d5d8c0" />
<rect x="541.9" y="363.6" width="7.7" height="4.8" fill="#d5d8c0" />
<rect x="531.6" y="352.0" width="10.3" height="18.6" fill="#050505" />
<rect x="564.8" y="353.0" width="27.0" height="18.0" fill="none" stroke="#dfeec0" stroke-width="0.7"/>
<rect x="565.8" y="353.6" width="7.0" height="4.8" fill="#d5d8c0" />
<rect x="583.1" y="353.6" width="7.7" height="4.8" fill="#d5d8c0" />
<rect x="565.8" y="363.6" width="7.0" height="4.8" fill="#d5d8c0" />
<rect x="583.1" y="363.6" width="7.7" height="4.8" fill="#d5d8c0" />
<rect x="572.8" y="352.0" width="10.3" height="18.6" fill="#050505" />
<rect x="552.0" y="352.0" width="9.0" height="20.0" fill="#e4e6c8" rx="1"/>
<rect x="553.5" y="357.0" width="6.0" height="9.0" fill="#2d5a24" />
<circle cx="556.5" cy="346.0" r="1.2" fill="#1a1a1a" />
<circle cx="613.0" cy="345.0" r="1.1" fill="#5a1a10" />
<rect x="118.7" y="274.6" width="45.0" height="87.2" fill="url(#gr3)" rx="1" stroke="#c9c9c4" stroke-width="0.8"/>
<rect x="163.5" y="278.0" width="3.0" height="82.0" fill="#dfe6c4" />
<path d="M137,365.5 H129 Q125.5,365.5 125.5,369 V376.5 Q125.5,380 129,380 H137" stroke="#08780e" stroke-width="3.4" fill="none" stroke-linejoin="round" stroke-linecap="round" />
<path d="M137,365.5 H129 Q125.5,365.5 125.5,369 V376.5 Q125.5,380 129,380 H137" stroke="#e3e57c" stroke-width="0.9" fill="none" stroke-linejoin="round" stroke-linecap="round" />
<rect x="130.0" y="367.5" width="22.0" height="10.5" fill="#d9cfa8" rx="1"/>
<rect x="136.5" y="367.5" width="10.0" height="10.5" fill="#3a3410" />
<rect x="165.0" y="366.0" width="18.0" height="14.0" fill="none" stroke="#e9efc0" stroke-width="0.8"/>
<rect x="167.0" y="368.5" width="14.0" height="9.0" fill="#d6d2b0" />
<rect x="171.0" y="368.5" width="7.0" height="9.0" fill="#4a4a16" />
<circle cx="152.0" cy="381.0" r="1" fill="#222" />
<circle cx="190.0" cy="381.0" r="1.2" fill="#222" />
<rect x="116.0" y="386.5" width="521.0" height="4.5" fill="#0c960f" rx="0"/>
<polygon points="362.0,311.0 362.0,296.0 371.0,283.5 410.0,283.5 442.0,289.5 456.0,289.5 456.0,283.0 478.0,283.0 478.0,311.0" fill="#0c960f"/>
<rect x="455.0" y="283.0" width="21.0" height="28.0" fill="#0c960f" rx="0"/>
<path d="M372,289.5 H436" stroke="#e3e57c" stroke-width="1" fill="none" stroke-linejoin="round" stroke-linecap="round" />
<polygon points="178.7,291.0 184.7,291.0 189.7,305.0 185.2,305.0 181.7,297.0 177.7,305.0 173.2,305.0" fill="#0c960f"/>
<path d="M179.2,292 L175.2,304" stroke="#e3e57c" stroke-width="0.8" fill="none" stroke-linejoin="round" stroke-linecap="round" />
<polygon points="215.1,291.0 221.1,291.0 226.1,305.0 221.6,305.0 218.1,297.0 214.1,305.0 209.6,305.0" fill="#0c960f"/>
<path d="M215.6,292 L211.6,304" stroke="#e3e57c" stroke-width="0.8" fill="none" stroke-linejoin="round" stroke-linecap="round" />
<polygon points="247.9,291.0 253.9,291.0 258.9,305.0 254.4,305.0 250.9,297.0 246.9,305.0 242.4,305.0" fill="#0c960f"/>
<path d="M248.4,292 L244.4,304" stroke="#e3e57c" stroke-width="0.8" fill="none" stroke-linejoin="round" stroke-linecap="round" />
<polygon points="313.0,292.0 329.0,292.0 332.0,311.0 305.0,311.0" fill="#0c960f"/>
<path d="M285.8,311 V304 A4.6,4.6 0 0 1 295.0,304 V311" stroke="#08780e" stroke-width="3" fill="none" stroke-linejoin="round" stroke-linecap="round" />
<path d="M486.0,311 V304 A4.6,4.6 0 0 1 495.2,304 V311" stroke="#08780e" stroke-width="3" fill="none" stroke-linejoin="round" stroke-linecap="round" />
<path d="M358.6,311 V304 A4.6,4.6 0 0 1 367.8,304 V311" stroke="#08780e" stroke-width="3" fill="none" stroke-linejoin="round" stroke-linecap="round" />
<polygon points="193.9,356.0 223.1,356.0 222.6,362.0 215.8,367.5 195.8,367.5 193.9,362.0" fill="#0c960f"/>
<polygon points="230.3,356.0 259.5,356.0 259.0,362.0 252.2,367.5 232.2,367.5 230.3,362.0" fill="#0c960f"/>
<polygon points="266.7,356.0 295.9,356.0 295.4,362.0 288.6,367.5 268.6,367.5 266.7,362.0" fill="#0c960f"/>
<polygon points="321.3,356.0 350.5,356.0 350.0,362.0 343.2,367.5 323.2,367.5 321.3,362.0" fill="#0c960f"/>
<polygon points="375.9,356.0 405.1,356.0 404.6,362.0 397.8,367.5 377.8,367.5 375.9,362.0" fill="#0c960f"/>
<polygon points="412.3,356.0 441.5,356.0 441.0,362.0 434.2,367.5 414.2,367.5 412.3,362.0" fill="#0c960f"/>
<polygon points="448.7,356.0 477.9,356.0 477.4,362.0 470.6,367.5 450.6,367.5 448.7,362.0" fill="#0c960f"/>
<path d="M304.0,356 V362 A4.6,4.6 0 0 0 313.2,362 V356" stroke="#08780e" stroke-width="3" fill="none" stroke-linejoin="round" stroke-linecap="round" />
<path d="M486.0,356 V362 A4.6,4.6 0 0 0 495.2,362 V356" stroke="#08780e" stroke-width="3" fill="none" stroke-linejoin="round" stroke-linecap="round" />
<path d="M358.6,356 V362 A4.6,4.6 0 0 0 367.8,362 V356" stroke="#08780e" stroke-width="3" fill="none" stroke-linejoin="round" stroke-linecap="round" />
<polygon points="175.2,356.0 187.2,356.0 189.2,366.0 173.2,366.0" fill="#0c960f"/>
<ellipse cx="181.2" cy="305.4" rx="3.5" ry="3.4" fill="#161614"/>
<rect x="177.1" y="305.2" width="8.2" height="5.8" fill="#bdbdb6" rx="0.8"/>
<ellipse cx="181.2" cy="361.6" rx="3.5" ry="3.4" fill="#161614"/>
<rect x="177.1" y="356.0" width="8.2" height="5.8" fill="#bdbdb6" rx="0.8"/>
<ellipse cx="199.4" cy="305.4" rx="3.5" ry="3.4" fill="#161614"/>
<rect x="195.3" y="305.2" width="8.2" height="5.8" fill="#bdbdb6" rx="0.8"/>
<ellipse cx="199.4" cy="361.6" rx="3.5" ry="3.4" fill="#161614"/>
<rect x="195.3" y="356.0" width="8.2" height="5.8" fill="#bdbdb6" rx="0.8"/>
<ellipse cx="217.6" cy="305.4" rx="3.5" ry="3.4" fill="#161614"/>
<rect x="213.5" y="305.2" width="8.2" height="5.8" fill="#bdbdb6" rx="0.8"/>
<ellipse cx="217.6" cy="361.6" rx="3.5" ry="3.4" fill="#161614"/>
<rect x="213.5" y="356.0" width="8.2" height="5.8" fill="#bdbdb6" rx="0.8"/>
<ellipse cx="235.8" cy="305.4" rx="3.5" ry="3.4" fill="#161614"/>
<rect x="231.7" y="305.2" width="8.2" height="5.8" fill="#bdbdb6" rx="0.8"/>
<ellipse cx="235.8" cy="361.6" rx="3.5" ry="3.4" fill="#161614"/>
<rect x="231.7" y="356.0" width="8.2" height="5.8" fill="#bdbdb6" rx="0.8"/>
<ellipse cx="254.0" cy="305.4" rx="3.5" ry="3.4" fill="#161614"/>
<rect x="249.9" y="305.2" width="8.2" height="5.8" fill="#bdbdb6" rx="0.8"/>
<ellipse cx="254.0" cy="361.6" rx="3.5" ry="3.4" fill="#161614"/>
<rect x="249.9" y="356.0" width="8.2" height="5.8" fill="#bdbdb6" rx="0.8"/>
<ellipse cx="272.2" cy="305.4" rx="3.5" ry="3.4" fill="#161614"/>
<rect x="268.1" y="305.2" width="8.2" height="5.8" fill="#bdbdb6" rx="0.8"/>
<ellipse cx="272.2" cy="361.6" rx="3.5" ry="3.4" fill="#161614"/>
<rect x="268.1" y="356.0" width="8.2" height="5.8" fill="#bdbdb6" rx="0.8"/>
<ellipse cx="290.4" cy="305.4" rx="3.5" ry="3.4" fill="#161614"/>
<rect x="286.3" y="305.2" width="8.2" height="5.8" fill="#bdbdb6" rx="0.8"/>
<ellipse cx="290.4" cy="361.6" rx="3.5" ry="3.4" fill="#161614"/>
<rect x="286.3" y="356.0" width="8.2" height="5.8" fill="#bdbdb6" rx="0.8"/>
<ellipse cx="308.6" cy="305.4" rx="3.5" ry="3.4" fill="#161614"/>
<rect x="304.5" y="305.2" width="8.2" height="5.8" fill="#bdbdb6" rx="0.8"/>
<ellipse cx="308.6" cy="361.6" rx="3.5" ry="3.4" fill="#161614"/>
<rect x="304.5" y="356.0" width="8.2" height="5.8" fill="#bdbdb6" rx="0.8"/>
<ellipse cx="326.8" cy="305.4" rx="3.5" ry="3.4" fill="#161614"/>
<rect x="322.7" y="305.2" width="8.2" height="5.8" fill="#bdbdb6" rx="0.8"/>
<ellipse cx="326.8" cy="361.6" rx="3.5" ry="3.4" fill="#161614"/>
<rect x="322.7" y="356.0" width="8.2" height="5.8" fill="#bdbdb6" rx="0.8"/>
<ellipse cx="345.0" cy="305.4" rx="3.5" ry="3.4" fill="#161614"/>
<rect x="340.9" y="305.2" width="8.2" height="5.8" fill="#bdbdb6" rx="0.8"/>
<ellipse cx="345.0" cy="361.6" rx="3.5" ry="3.4" fill="#161614"/>
<rect x="340.9" y="356.0" width="8.2" height="5.8" fill="#bdbdb6" rx="0.8"/>
<ellipse cx="363.2" cy="305.4" rx="3.5" ry="3.4" fill="#161614"/>
<rect x="359.1" y="305.2" width="8.2" height="5.8" fill="#bdbdb6" rx="0.8"/>
<ellipse cx="363.2" cy="361.6" rx="3.5" ry="3.4" fill="#161614"/>
<rect x="359.1" y="356.0" width="8.2" height="5.8" fill="#bdbdb6" rx="0.8"/>
<ellipse cx="381.4" cy="305.4" rx="3.5" ry="3.4" fill="#161614"/>
<rect x="377.3" y="305.2" width="8.2" height="5.8" fill="#bdbdb6" rx="0.8"/>
<ellipse cx="381.4" cy="361.6" rx="3.5" ry="3.4" fill="#161614"/>
<rect x="377.3" y="356.0" width="8.2" height="5.8" fill="#bdbdb6" rx="0.8"/>
<ellipse cx="399.6" cy="305.4" rx="3.5" ry="3.4" fill="#161614"/>
<rect x="395.5" y="305.2" width="8.2" height="5.8" fill="#bdbdb6" rx="0.8"/>
<ellipse cx="399.6" cy="361.6" rx="3.5" ry="3.4" fill="#161614"/>
<rect x="395.5" y="356.0" width="8.2" height="5.8" fill="#bdbdb6" rx="0.8"/>
<ellipse cx="417.8" cy="305.4" rx="3.5" ry="3.4" fill="#161614"/>
<rect x="413.7" y="305.2" width="8.2" height="5.8" fill="#bdbdb6" rx="0.8"/>
<ellipse cx="417.8" cy="361.6" rx="3.5" ry="3.4" fill="#161614"/>
<rect x="413.7" y="356.0" width="8.2" height="5.8" fill="#bdbdb6" rx="0.8"/>
<ellipse cx="436.0" cy="305.4" rx="3.5" ry="3.4" fill="#161614"/>
<rect x="431.9" y="305.2" width="8.2" height="5.8" fill="#bdbdb6" rx="0.8"/>
<ellipse cx="436.0" cy="361.6" rx="3.5" ry="3.4" fill="#161614"/>
<rect x="431.9" y="356.0" width="8.2" height="5.8" fill="#bdbdb6" rx="0.8"/>
<ellipse cx="454.2" cy="305.4" rx="3.5" ry="3.4" fill="#161614"/>
<rect x="450.1" y="305.2" width="8.2" height="5.8" fill="#bdbdb6" rx="0.8"/>
<ellipse cx="454.2" cy="361.6" rx="3.5" ry="3.4" fill="#161614"/>
<rect x="450.1" y="356.0" width="8.2" height="5.8" fill="#bdbdb6" rx="0.8"/>
<ellipse cx="472.4" cy="305.4" rx="3.5" ry="3.4" fill="#161614"/>
<rect x="468.3" y="305.2" width="8.2" height="5.8" fill="#bdbdb6" rx="0.8"/>
<ellipse cx="472.4" cy="361.6" rx="3.5" ry="3.4" fill="#161614"/>
<rect x="468.3" y="356.0" width="8.2" height="5.8" fill="#bdbdb6" rx="0.8"/>
<ellipse cx="490.6" cy="305.4" rx="3.5" ry="3.4" fill="#161614"/>
<rect x="486.5" y="305.2" width="8.2" height="5.8" fill="#bdbdb6" rx="0.8"/>
<ellipse cx="490.6" cy="361.6" rx="3.5" ry="3.4" fill="#161614"/>
<rect x="486.5" y="356.0" width="8.2" height="5.8" fill="#bdbdb6" rx="0.8"/>
<rect x="167.6" y="310.5" width="334.8" height="45.5" fill="#050505" />
<rect x="354.3" y="312.0" width="0.8" height="43.0" fill="#555" />
<rect x="391.7" y="312.0" width="1.0" height="43.0" fill="#c8c8c8" />
<rect x="176.0" y="266.0" width="69.0" height="7.0" fill="#0c960f" rx="2"/>
<rect x="172.0" y="274.3" width="68.0" height="7.0" fill="#e9e6c4" rx="1"/>
<rect x="178.4" y="274.8" width="7.2" height="6.0" fill="#1a2ec4" />
<rect x="200.9" y="274.8" width="7.2" height="6.0" fill="#1a2ec4" />
<rect x="224.4" y="274.8" width="7.2" height="6.0" fill="#1a2ec4" />
<rect x="192.4" y="274.5" width="1.2" height="6.5" fill="#9aa070" />
<rect x="215.4" y="274.5" width="1.2" height="6.5" fill="#9aa070" />
<rect x="178.0" y="285.5" width="17.0" height="7.0" fill="#e9e6c4" rx="1"/>
<rect x="183.0" y="286.0" width="7.0" height="6.0" fill="#1a2ec4" />
<rect x="198.0" y="285.5" width="37.0" height="7.0" fill="#e9e6c4" rx="1"/>
<rect x="209.5" y="286.5" width="1.5" height="5.0" fill="#222" />
<rect x="216.0" y="285.5" width="1.5" height="7.0" fill="#8a9a50" />
<rect x="238.5" y="285.2" width="20.0" height="8.5" fill="#0c960f" stroke="#e9efc0" stroke-width="0.9" rx="1"/>
<rect x="240.0" y="286.8" width="17.0" height="5.5" fill="#d9d9cf" />
<rect x="245.5" y="286.8" width="6.0" height="5.5" fill="#1c36c8" />
<rect x="310.5" y="284.8" width="21.0" height="8.5" fill="#0c960f" stroke="#e9efc0" stroke-width="0.9" rx="1"/>
<rect x="312.0" y="286.2" width="18.0" height="5.5" fill="#d9d9cf" />
<rect x="318.0" y="286.2" width="6.0" height="5.5" fill="#d9d9cf" />
<rect x="320.0" y="286.0" width="1.5" height="6.0" fill="#222" />
<rect x="350.5" y="284.8" width="19.0" height="8.5" fill="#0c960f" stroke="#e9efc0" stroke-width="0.9" rx="1"/>
<rect x="352.0" y="286.2" width="16.0" height="5.5" fill="#d9d9cf" />
<rect x="357.0" y="286.2" width="6.0" height="5.5" fill="#d9d9cf" />
<rect x="359.0" y="286.0" width="1.5" height="6.0" fill="#222" />
<rect x="384.5" y="285.2" width="17.0" height="8.5" fill="#0c960f" stroke="#e9efc0" stroke-width="0.9" rx="1"/>
<rect x="386.0" y="286.8" width="14.0" height="5.5" fill="#d9d9cf" />
<rect x="390.0" y="286.8" width="6.0" height="5.5" fill="#d9d9cf" />
<rect x="400.3" y="285.2" width="17.0" height="8.5" fill="#0c960f" stroke="#e9efc0" stroke-width="0.9" rx="1"/>
<rect x="401.8" y="286.8" width="14.0" height="5.5" fill="#d9d9cf" />
<rect x="405.8" y="286.8" width="6.0" height="5.5" fill="#d9d9cf" />
<rect x="416.1" y="285.2" width="17.0" height="8.5" fill="#0c960f" stroke="#e9efc0" stroke-width="0.9" rx="1"/>
<rect x="417.6" y="286.8" width="14.0" height="5.5" fill="#d9d9cf" />
<rect x="421.6" y="286.8" width="6.0" height="5.5" fill="#d9d9cf" />
<rect x="423.8" y="286.5" width="1.4" height="6.0" fill="#222" />
<rect x="408.0" y="286.5" width="1.4" height="6.0" fill="#444" />
<circle cx="377.0" cy="281.0" r="2.4" fill="#e3e57c" stroke="#08780e" stroke-width="1"/>
<circle cx="377.0" cy="281.0" r="1" fill="#1a1a00" />
<circle cx="279.5" cy="288.5" r="1.4" fill="#2a1200" />
<circle cx="287.5" cy="288.5" r="1.4" fill="#2a1200" />
<circle cx="271.5" cy="288.5" r="1.4" fill="#2a1200" />
<circle cx="279.5" cy="296.5" r="1.4" fill="#2a1200" />
<circle cx="279.5" cy="280.5" r="1.4" fill="#2a1200" />
<circle cx="242.5" cy="278.0" r="1.4" fill="#2a1200" />
<circle cx="305.0" cy="289.5" r="2" fill="#e8efc0" />
<rect x="194.4" y="366.8" width="20.0" height="8.5" fill="#0c960f" stroke="#e9efc0" stroke-width="0.9" rx="1"/>
<rect x="195.9" y="368.2" width="17.0" height="5.5" fill="#d9d9cf" />
<rect x="201.4" y="368.2" width="6.0" height="5.5" fill="#1c36c8" />
<rect x="231.6" y="366.8" width="20.0" height="8.5" fill="#0c960f" stroke="#e9efc0" stroke-width="0.9" rx="1"/>
<rect x="233.1" y="368.2" width="17.0" height="5.5" fill="#d9d9cf" />
<rect x="238.6" y="368.2" width="6.0" height="5.5" fill="#1c36c8" />
<rect x="267.6" y="366.8" width="20.0" height="8.5" fill="#0c960f" stroke="#e9efc0" stroke-width="0.9" rx="1"/>
<rect x="269.1" y="368.2" width="17.0" height="5.5" fill="#d9d9cf" />
<rect x="274.6" y="368.2" width="6.0" height="5.5" fill="#1c36c8" />
<rect x="378.0" y="366.8" width="20.0" height="8.5" fill="#0c960f" stroke="#e9efc0" stroke-width="0.9" rx="1"/>
<rect x="379.5" y="368.2" width="17.0" height="5.5" fill="#d9d9cf" />
<rect x="385.0" y="368.2" width="6.0" height="5.5" fill="#1c36c8" />
<rect x="414.5" y="366.8" width="20.0" height="8.5" fill="#0c960f" stroke="#e9efc0" stroke-width="0.9" rx="1"/>
<rect x="416.0" y="368.2" width="17.0" height="5.5" fill="#d9d9cf" />
<rect x="421.5" y="368.2" width="6.0" height="5.5" fill="#1c36c8" />
<rect x="451.0" y="366.8" width="20.0" height="8.5" fill="#0c960f" stroke="#e9efc0" stroke-width="0.9" rx="1"/>
<rect x="452.5" y="368.2" width="17.0" height="5.5" fill="#d9d9cf" />
<rect x="458.0" y="368.2" width="6.0" height="5.5" fill="#1c36c8" />
<rect x="320.5" y="366.8" width="21.0" height="8.5" fill="#0c960f" stroke="#e9efc0" stroke-width="0.9" rx="1"/>
<rect x="322.0" y="368.2" width="18.0" height="5.5" fill="#d9d9cf" />
<rect x="328.0" y="368.2" width="6.0" height="5.5" fill="#d9d9cf" />
<rect x="330.0" y="368.0" width="1.5" height="6.0" fill="#222" />
<circle cx="218.8" cy="371.0" r="2.4" fill="#e3e57c" stroke="#08780e" stroke-width="1"/>
<circle cx="218.8" cy="371.0" r="1" fill="#1a1a00" />
<circle cx="256.0" cy="371.0" r="2.4" fill="#e3e57c" stroke="#08780e" stroke-width="1"/>
<circle cx="256.0" cy="371.0" r="1" fill="#1a1a00" />
<circle cx="293.6" cy="371.0" r="2.4" fill="#e3e57c" stroke="#08780e" stroke-width="1"/>
<circle cx="293.6" cy="371.0" r="1" fill="#1a1a00" />
<circle cx="347.0" cy="371.0" r="2.4" fill="#e3e57c" stroke="#08780e" stroke-width="1"/>
<circle cx="347.0" cy="371.0" r="1" fill="#1a1a00" />
<circle cx="310.0" cy="372.5" r="1.3" fill="#2a1200" />
<circle cx="366.0" cy="360.0" r="1.3" fill="#2a1200" />
<circle cx="365.0" cy="372.5" r="1.3" fill="#2a1200" />
<circle cx="190.0" cy="381.0" r="1.3" fill="#2a1200" />
</g>
<g>
<line x1="198" y1="105.4" x2="198" y2="215.3" stroke="#c02a38" stroke-width="1.7"/>
<circle cx="198" cy="215.3" r="2.7" fill="#c4202c"/>
<circle cx="197.9" cy="92.3" r="10.4" fill="#fff" stroke="#a83a44" stroke-width="1.3"/>
<text x="197.9" y="99.2" text-anchor="middle" font-family="Noto Sans CJK SC, Liberation Sans, sans-serif" font-size="19" fill="#b3232a">1</text>
<line x1="82.4" y1="237.3" x2="133.3" y2="237.5" stroke="#c02a38" stroke-width="1.7"/>
<circle cx="133.3" cy="237.5" r="2.7" fill="#c4202c"/>
<circle cx="69.1" cy="237.4" r="10.4" fill="#fff" stroke="#a83a44" stroke-width="1.3"/>
<text x="69.1" y="244.3" text-anchor="middle" font-family="Noto Sans CJK SC, Liberation Sans, sans-serif" font-size="19" fill="#b3232a">2</text>
<line x1="74.4" y1="322.6" x2="126" y2="322.3" stroke="#c02a38" stroke-width="1.7"/>
<circle cx="126" cy="322.3" r="2.7" fill="#c4202c"/>
<circle cx="61.8" cy="322.7" r="10.4" fill="#fff" stroke="#a83a44" stroke-width="1.3"/>
<text x="61.8" y="329.59999999999997" text-anchor="middle" font-family="Noto Sans CJK SC, Liberation Sans, sans-serif" font-size="19" fill="#b3232a">3</text>
<line x1="262.8" y1="447.4" x2="262.8" y2="337.4" stroke="#c02a38" stroke-width="1.7"/>
<circle cx="262.8" cy="337.4" r="2.7" fill="#c4202c"/>
<circle cx="263" cy="460.6" r="10.4" fill="#fff" stroke="#a83a44" stroke-width="1.3"/>
<text x="263" y="467.5" text-anchor="middle" font-family="Noto Sans CJK SC, Liberation Sans, sans-serif" font-size="19" fill="#b3232a">4</text>
<line x1="676.2" y1="300.6" x2="566.4" y2="301.6" stroke="#c02a38" stroke-width="1.7"/>
<circle cx="566.4" cy="301.6" r="2.7" fill="#c4202c"/>
<circle cx="689.8" cy="299.2" r="10.4" fill="#fff" stroke="#a83a44" stroke-width="1.3"/>
<text x="689.8" y="306.09999999999997" text-anchor="middle" font-family="Noto Sans CJK SC, Liberation Sans, sans-serif" font-size="19" fill="#b3232a">5</text>
<line x1="676.2" y1="225.0" x2="566.4" y2="225.3" stroke="#c02a38" stroke-width="1.7"/>
<circle cx="566.4" cy="225.3" r="2.7" fill="#c4202c"/>
<circle cx="689.8" cy="224.8" r="10.4" fill="#fff" stroke="#a83a44" stroke-width="1.3"/>
<text x="689.8" y="231.70000000000002" text-anchor="middle" font-family="Noto Sans CJK SC, Liberation Sans, sans-serif" font-size="19" fill="#b3232a">6</text>
</g>
</svg>
<div id="box">
<div class="l" style="top:22.4px"><span class="c">①</span><span class="t" style="left:31.6px;letter-spacing:0.368px">Incorporates the industry's most widely adopted USB conversion chip, compatible</span></div>
<div class="l" style="top:43.7px"><span class="t" style="left:9.0px;letter-spacing:0.401px">with all known Windows operating systems and supporting both USB 2.0 and 3.0 standards</span></div>
<div class="l" style="top:65.0px"><span class="c">②</span><span class="t" style="left:31.6px;letter-spacing:0.379px">Utilizes self-recovery fuses that provide optimal device protection against circuit</span></div>
<div class="l" style="top:86.3px"><span class="t" style="left:12.6px;letter-spacing:0.424px">overvoltage, overcurrent, and short-circuit conditions.</span></div>
<div class="l" style="top:107.6px"><span class="c">③</span><span class="t" style="left:31.6px;letter-spacing:0.561px">Implements premium isolated power supply components for heat-free operation,</span></div>
<div class="l" style="top:128.9px"><span class="t" style="left:9.0px;letter-spacing:0.557px">enhanced stability, and extended lifespan.</span></div>
<div class="l" style="top:150.2px"><span class="c">④</span><span class="t" style="left:31.6px;letter-spacing:0.457px">Features high-speed optocouplers from Fairchild and Agilent Technologies to</span></div>
<div class="l" style="top:171.5px"><span class="t" style="left:9.0px;letter-spacing:0.511px">minimize signal interference and ensure communication integrity.</span></div>
<div class="l" style="top:192.8px"><span class="c">⑥</span><span class="t" style="left:31.6px;letter-spacing:0.328px">Employs SIPEX conversion chips manufactured from new OEM components,</span></div>
<div class="l" style="top:214.1px"><span class="t" style="left:13.0px;letter-spacing:0.512px">excluding refurbished or second-hand parts.</span></div>
</div>
</body></html>
